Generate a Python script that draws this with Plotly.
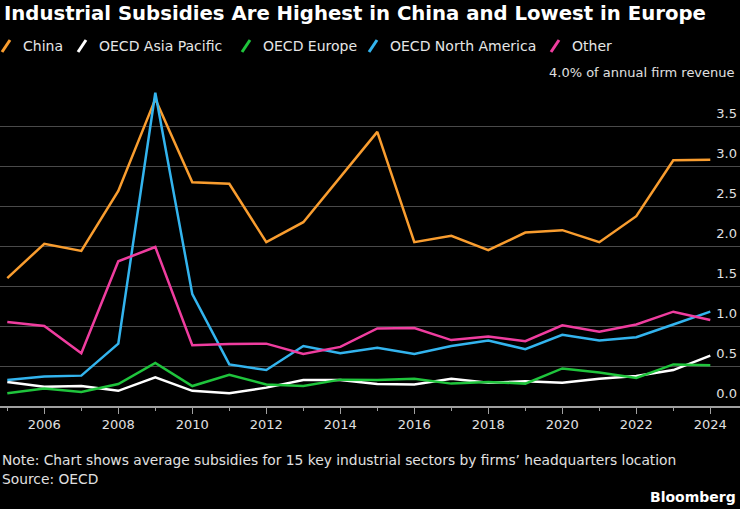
import plotly.graph_objects as go

years = list(range(2005, 2025))
china = [1.60, 2.03, 1.94, 2.69, 3.84, 2.80, 2.78, 2.05, 2.30, 2.87, 3.43, 2.05, 2.13, 1.95, 2.17, 2.20, 2.05, 2.375, 3.075, 3.08]
asia_pacific = [0.30, 0.24, 0.25, 0.19, 0.36, 0.19, 0.16, 0.23, 0.325, 0.325, 0.275, 0.27, 0.34, 0.29, 0.31, 0.29, 0.34, 0.375, 0.45, 0.63]
europe = [0.16, 0.22, 0.175, 0.275, 0.54, 0.25, 0.39, 0.27, 0.25, 0.33, 0.325, 0.34, 0.28, 0.30, 0.28, 0.47, 0.42, 0.35, 0.52, 0.51]
north_america = [0.325, 0.37, 0.38, 0.78, 3.92, 1.40, 0.52, 0.45, 0.75, 0.66, 0.73, 0.65, 0.75, 0.82, 0.71, 0.89, 0.82, 0.86, 1.02, 1.18]
other = [1.05, 1.00, 0.66, 1.81, 1.99, 0.76, 0.775, 0.78, 0.65, 0.74, 0.97, 0.975, 0.825, 0.87, 0.81, 1.01, 0.93, 1.02, 1.18, 1.075]

series_names = ["China", "OECD Asia Pacific", "OECD Europe", "OECD North America", "Other"]
series_values = [china, asia_pacific, europe, north_america, other]
colors = ["#f99d2f", "#ffffff", "#1fc43c", "#33b4ee", "#ef3d9f"]

x_tick_years = list(range(2006, 2025, 2))
y_tick_vals = [0, 0.5, 1.0, 1.5, 2.0, 2.5, 3.0, 3.5, 4.0]
y_tick_text = ["0.0", "0.5", "1.0", "1.5", "2.0", "2.5", "3.0", "3.5", ""]

title = "Industrial Subsidies Are Highest in China and Lowest in Europe"
unit_label = "4.0% of annual firm revenue"
note = "Note: Chart shows average subsidies for 15 key industrial sectors by firms\u2019 headquarters location"
source = "Source: OECD"

W, H = 740, 509
TOP, BOTTOM = 86, 406
FONT = "DejaVu Sans"
Y_MAX = 4.004


def px(x):
    return x / W


def py(y):
    return (BOTTOM - y) / (BOTTOM - TOP)


fig = go.Figure()
for name, vals, c in zip(series_names, series_values, colors):
    fig.add_trace(go.Scatter(x=years, y=vals, name=name, mode="lines",
                             line=dict(color=c, width=2.5), showlegend=False))

annotations = [
    dict(text="<b>" + title + "</b>", x=px(2), y=py(13), xref="paper", yref="paper",
         xanchor="left", yanchor="middle", showarrow=False,
         font=dict(family=FONT, size=19.7, color="#ffffff")),
    dict(text=unit_label, x=px(737), y=py(72), xref="paper", yref="paper",
         xanchor="right", yanchor="middle", showarrow=False,
         font=dict(family=FONT, size=13, color="#e0e0e0")),
    dict(text=note, x=px(0), y=py(460), xref="paper", yref="paper",
         xanchor="left", yanchor="middle", showarrow=False,
         font=dict(family=FONT, size=13.8, color="#e0e0e0")),
    dict(text=source, x=px(0), y=py(479), xref="paper", yref="paper",
         xanchor="left", yanchor="middle", showarrow=False,
         font=dict(family=FONT, size=13.8, color="#e0e0e0")),
    dict(text="<b>Bloomberg</b>", x=px(738), y=py(497), xref="paper", yref="paper",
         xanchor="right", yanchor="middle", showarrow=False,
         font=dict(family=FONT, size=14, color="#ffffff")),
]

legend_text_x = [21, 97, 261, 388, 570]
shapes = []
for name, c, tx in zip(series_names, colors, legend_text_x):
    annotations.append(dict(text=name, x=px(tx), y=py(46), xref="paper", yref="paper",
                            xanchor="left", yanchor="middle", showarrow=False,
                            font=dict(family=FONT, size=14, color="#e6e6e6")))
    shapes.append(dict(type="line", xref="paper", yref="paper",
                       x0=px(tx - 19), y0=py(52), x1=px(tx - 11), y1=py(40),
                       line=dict(color=c, width=3)))

x_left = 2005 - 7.3 / 37.0
x_right = x_left + W / 37.0

fig.update_layout(
    width=W, height=H,
    margin=dict(l=0, r=0, t=TOP, b=H - BOTTOM, pad=0),
    paper_bgcolor="#000000", plot_bgcolor="#000000",
    showlegend=False,
    annotations=annotations,
    shapes=shapes,
    xaxis=dict(range=[x_left, x_right], tickvals=x_tick_years,
               ticktext=[str(y) for y in x_tick_years],
               ticks="outside", ticklen=6, tickwidth=1, tickcolor="#a0a0a0",
               showline=True, linecolor="#a0a0a0", linewidth=1.5,
               showgrid=False, zeroline=False,
               tickfont=dict(family=FONT, size=13, color="#e0e0e0"),
               minor=dict(tickvals=years, ticks="outside", ticklen=3,
                          tickcolor="#a0a0a0", tickwidth=1, showgrid=False)),
    yaxis=dict(range=[0, Y_MAX], side="right", tickvals=y_tick_vals, ticktext=y_tick_text,
               ticklabelposition="inside", ticklabelshift=-13, ticks="",
               showgrid=True, gridcolor="#4a4a4a", gridwidth=1,
               zeroline=False, showline=False,
               tickfont=dict(family=FONT, size=13, color="#e0e0e0")),
)

fig.write_html("out.html")
